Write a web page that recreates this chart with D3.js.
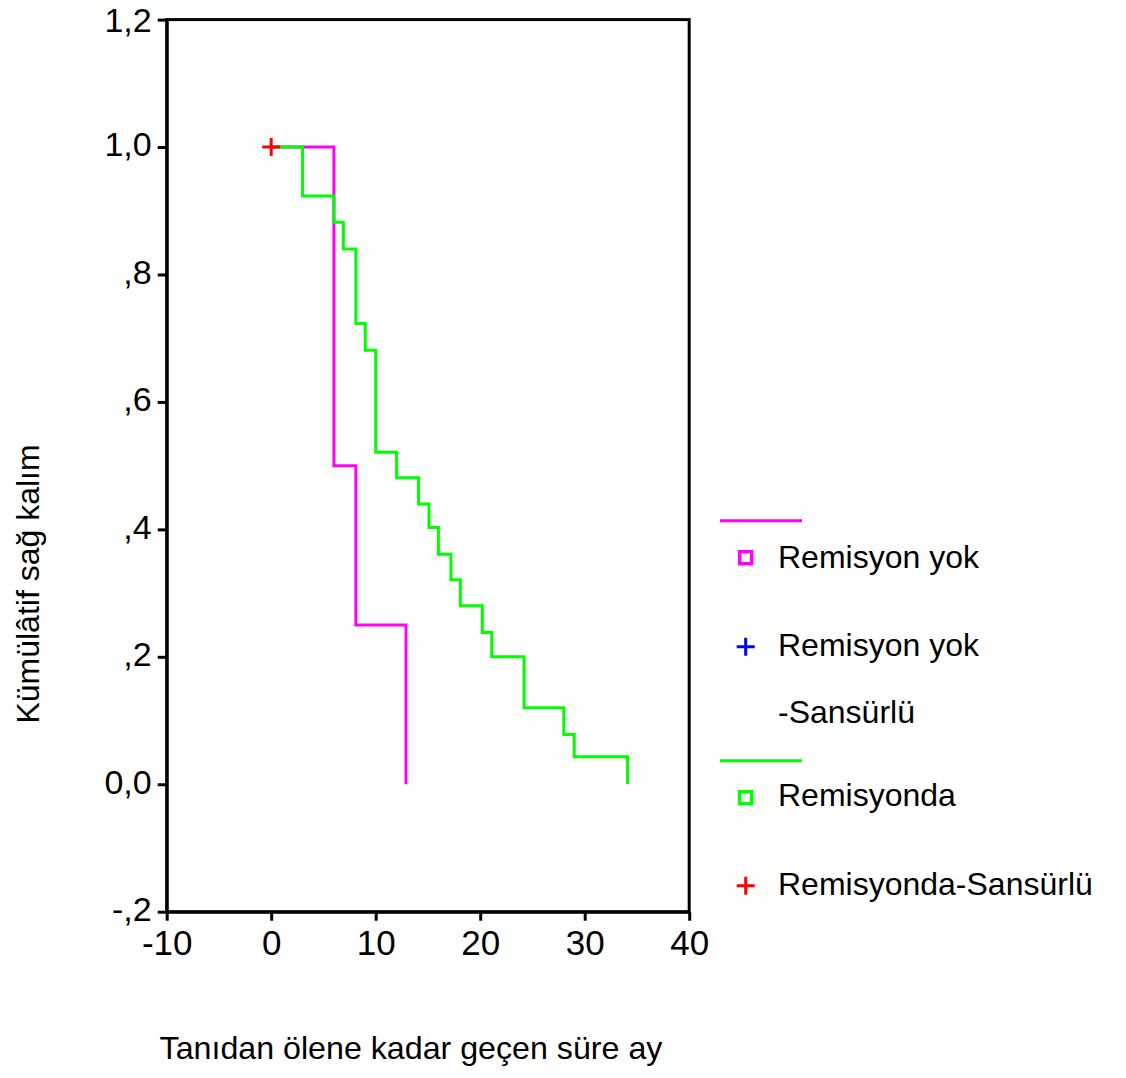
<!DOCTYPE html>
<html>
<head>
<meta charset="utf-8">
<script src="https://cdn.jsdelivr.net/npm/d3@7"></script>
<style>
    body { margin: 0; background: #fff; }
    svg text { font-family: Arial, "Liberation Sans", sans-serif; fill: #000; }
</style>
</head>
<body>
<svg id="chart" width="1126" height="1078"></svg>
<script>
// Kaplan-Meier verisi.
const timeNo = [0, 6, 8.1, 12.9];
const survNo = [1.0, 0.5, 0.25, 0.0];

const timeRem = [0, 3, 6, 6.9, 8.1, 9, 10, 12, 14.1, 15.1, 16, 17.2, 18.1, 20.2, 21.1, 24.2, 28, 29, 34.1];
const survRem = [1.0, 0.923, 0.882, 0.84, 0.723, 0.681, 0.521, 0.481, 0.44, 0.403, 0.361, 0.321, 0.28, 0.238, 0.2, 0.12, 0.078, 0.043, 0.0];

// Sansurlu gozlemler.
const censorTime = [0];
const censorSurv = [1.0];

const xTicks = [-10, 0, 10, 20, 30, 40];
const xTickLabels = ['-10', '0', '10', '20', '30', '40'];
const yTicks = [-0.2, 0, 0.2, 0.4, 0.6, 0.8, 1.0, 1.2];
const yTickLabels = ['-,2', '0,0', ',2', ',4', ',6', ',8', '1,0', '1,2'];

const legendLabels = ['Remisyon yok', 'Remisyon yok', '-Sansürlü', 'Remisyonda', 'Remisyonda-Sansürlü'];

const svg = d3.select('#chart');
const pLeft = 166.7, pRight = 689.2, pTop = 19.6, pBottom = 911.7;

const x = d3.scaleLinear().domain([-10, 40]).range([pLeft, pRight]);
const y = d3.scaleLinear().domain([-0.2, 1.2]).range([pBottom, pTop]);

// Cerceve
svg.append('rect')
    .attr('x', pLeft).attr('y', pTop)
    .attr('width', pRight - pLeft).attr('height', pBottom - pTop)
    .attr('fill', 'none').attr('stroke', '#000').attr('stroke-width', 3);

const yAxis = svg.append('g')
    .attr('transform', 'translate(' + pLeft + ',0)')
    .call(d3.axisLeft(y).tickValues(yTicks).tickSize(9).tickSizeOuter(0)
        .tickFormat(function (d, i) { return yTickLabels[i]; }));
yAxis.select('.domain').attr('stroke-width', 3);
yAxis.selectAll('.tick line').attr('stroke-width', 3);
yAxis.selectAll('.tick text')
    .attr('x', -15)
    .attr('dy', function (d) { return d > 1.1 ? '0.36em' : '0.26em'; })
    .style('font-size', '34px');

const xAxis = svg.append('g')
    .attr('transform', 'translate(0,' + pBottom + ')')
    .call(d3.axisBottom(x).tickValues(xTicks).tickSize(9).tickSizeOuter(0)
        .tickFormat(function (d, i) { return xTickLabels[i]; }));
xAxis.select('.domain').attr('stroke-width', 3);
xAxis.selectAll('.tick line').attr('stroke-width', 3);
xAxis.selectAll('.tick text')
    .attr('y', 18).attr('dy', '0.71em')
    .style('font-size', '35px');
svg.selectAll('.domain, .tick line').attr('stroke', '#000');

// Eksen basliklari
svg.append('text')
    .attr('x', 411).attr('y', 1059)
    .attr('text-anchor', 'middle')
    .style('font-size', '32.2px')
    .text('Tanıdan ölene kadar geçen süre ay');

svg.append('text')
    .attr('transform', 'translate(39,584) rotate(-90)')
    .attr('text-anchor', 'middle')
    .style('font-size', '32px')
    .text('Kümülâtif sağ kalım');

// Egriler
const line = d3.line()
    .x(function (d) { return x(d[0]); })
    .y(function (d) { return y(d[1]); })
    .curve(d3.curveStepAfter);

svg.append('path')
    .datum(d3.zip(timeNo, survNo))
    .attr('d', line)
    .attr('fill', 'none').attr('stroke', '#ff00ff').attr('stroke-width', 3);

svg.append('path')
    .datum(d3.zip(timeRem, survRem))
    .attr('d', line)
    .attr('fill', 'none').attr('stroke', '#00ff00').attr('stroke-width', 3);

function plus(g, cx, cy, color) {
    g.append('path')
        .attr('d', 'M' + (cx - 9) + ',' + cy + 'H' + (cx + 9) + 'M' + cx + ',' + (cy - 9) + 'V' + (cy + 9))
        .attr('stroke', color).attr('stroke-width', 3).attr('fill', 'none');
}

d3.zip(censorTime, censorSurv).forEach(function (d) {
    plus(svg, x(d[0]), y(d[1]), '#ff0000');
});

// Lejant
const lg = svg.append('g');
const lx = 778, mx = 745.7;

lg.append('line').attr('x1', 720).attr('x2', 802).attr('y1', 520.7).attr('y2', 520.7)
    .attr('stroke', '#ff00ff').attr('stroke-width', 3);
lg.append('rect').attr('x', mx - 6).attr('y', 557.7 - 6).attr('width', 12).attr('height', 12)
    .attr('fill', 'none').attr('stroke', '#ff00ff').attr('stroke-width', 3.5);
plus(lg, mx, 646.7, '#0000ff');

lg.append('line').attr('x1', 720).attr('x2', 802).attr('y1', 760.7).attr('y2', 760.7)
    .attr('stroke', '#00ff00').attr('stroke-width', 3);
lg.append('rect').attr('x', mx - 6).attr('y', 797.7 - 6).attr('width', 12).attr('height', 12)
    .attr('fill', 'none').attr('stroke', '#00ff00').attr('stroke-width', 3.5);
plus(lg, mx, 885.7, '#ff0000');

const legendY = [568.3, 656, 722.7, 806, 895];
legendLabels.forEach(function (t, i) {
    lg.append('text')
        .attr('x', lx).attr('y', legendY[i])
        .style('font-size', '32px')
        .text(t);
});
</script>
</body>
</html>
